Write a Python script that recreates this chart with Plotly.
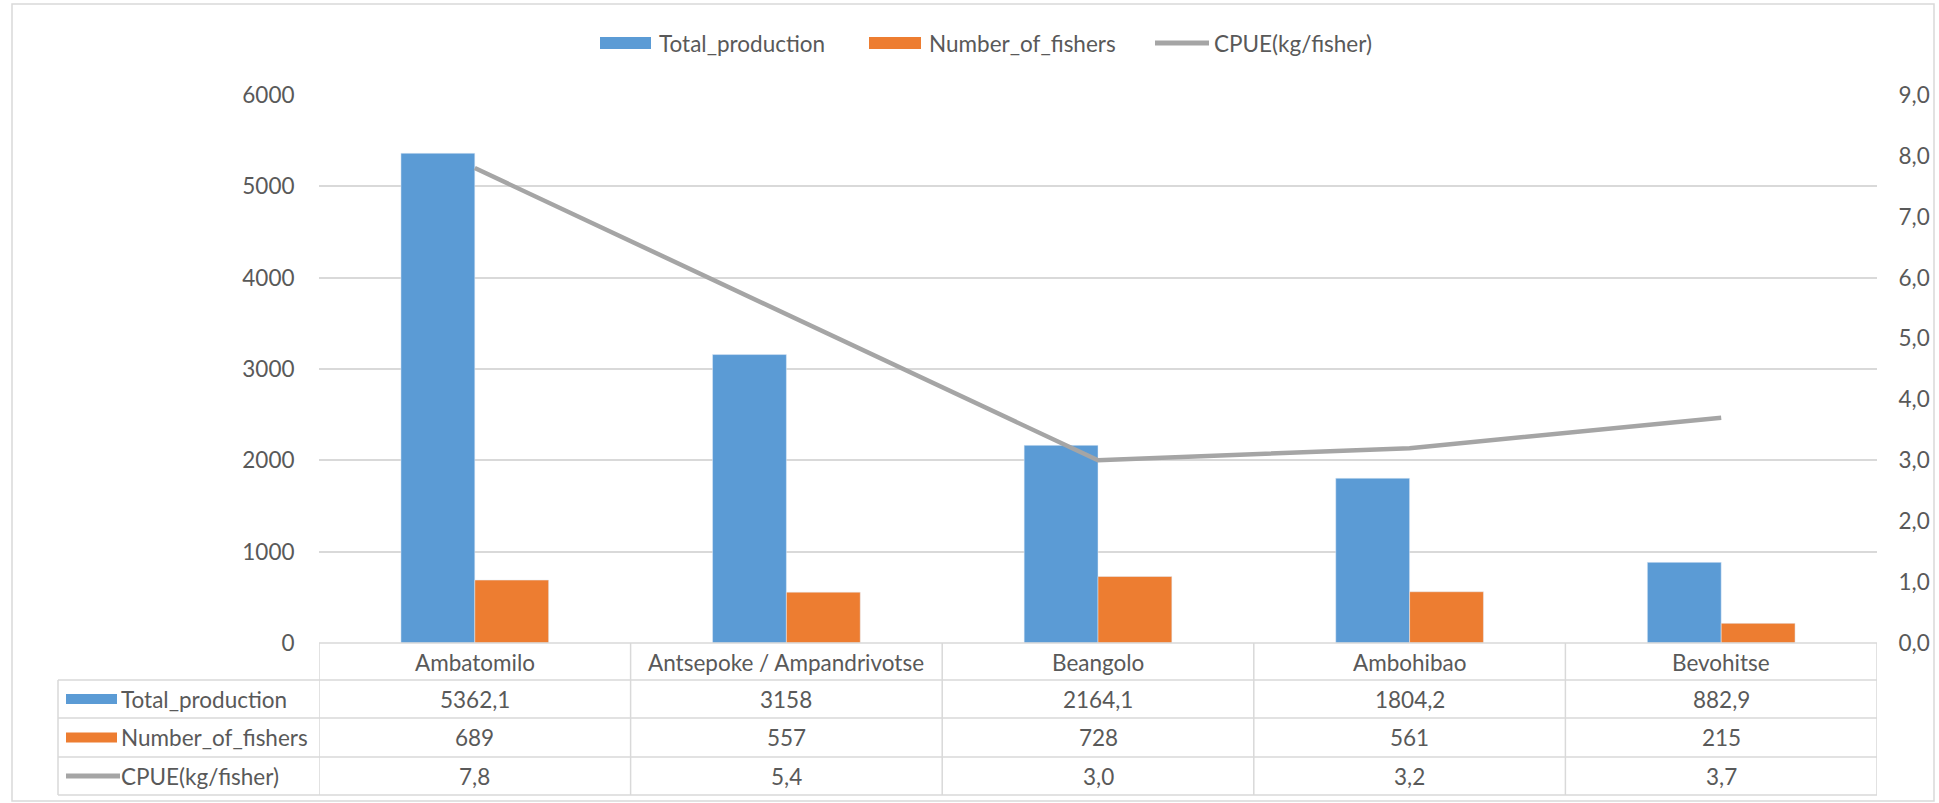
from plotly import graph_objects as go

# データ
sites = ['Ambatomilo', 'Antsepoke / Ampandrivotse', 'Beangolo', 'Ambohibao', 'Bevohitse']
total_production = [5362.1, 3158, 2164.1, 1804.2, 882.9]
number_of_fishers = [689, 557, 728, 561, 215]
cpue = [7.8, 5.4, 3.0, 3.2, 3.7]

series_names = ['Total_production', 'Number_of_fishers', 'CPUE(kg/fisher)']
left_ticks = [0, 1000, 2000, 3000, 4000, 5000, 6000]
right_ticks = [0, 1, 2, 3, 4, 5, 6, 7, 8, 9]

BLUE, ORANGE, GREY = '#5B9BD5', '#ED7D31', '#A5A5A5'
TXT, GRID = '#595959', '#D9D9D9'
FONT = 'Lato, sans-serif'
FS = 22.5

W, H = 1939, 803
L, R, T, B = 319, 62, 95, 160
PW, PH = W - L - R, H - T - B


def px(x):  # ピクセル -> paper座標
    return (x - L) / PW


def py(y):
    return (H - B - y) / PH


def fmt(v):
    return f'{v:g}'.replace('.', ',')


fig = go.Figure()
fig.add_trace(go.Bar(x=sites, y=total_production, name=series_names[0],
                     marker_color=BLUE, showlegend=False))
fig.add_trace(go.Bar(x=sites, y=number_of_fishers, name=series_names[1],
                     marker_color=ORANGE, showlegend=False))
fig.add_trace(go.Scatter(x=sites, y=cpue, name=series_names[2], yaxis='y2',
                         mode='lines', line=dict(color=GREY, width=4.5),
                         showlegend=False))

shapes, annos = [], []
line_style = dict(color=GRID, width=1.5)

# 外枠
shapes.append(dict(type='rect', xref='paper', yref='paper',
                   x0=px(12), x1=px(1934), y0=py(801), y1=py(4),
                   line=dict(color=GRID, width=1.5), layer='below'))

# 凡例（上部）
legend_items = [(600, 651, 657, BLUE, 'bar'), (869, 921, 927, ORANGE, 'bar'),
                (1155, 1209, 1212, GREY, 'line')]
for (k0, k1, tx, col, kind), name in zip(legend_items, series_names):
    if kind == 'bar':
        shapes.append(dict(type='rect', xref='paper', yref='paper',
                           x0=px(k0), x1=px(k1), y0=py(49), y1=py(37),
                           fillcolor=col, line=dict(width=0)))
    else:
        shapes.append(dict(type='line', xref='paper', yref='paper',
                           x0=px(k0), x1=px(k1), y0=py(43), y1=py(43),
                           line=dict(color=col, width=5)))
    annos.append(dict(xref='paper', yref='paper', x=px(tx), y=py(43),
                      text=name, showarrow=False, xanchor='left',
                      yanchor='middle', font=dict(family=FONT, size=FS, color=TXT)))

# データテーブル
row_edges = [643, 680, 718, 757, 795]
table_left = 58
for i, ye in enumerate(row_edges):
    x0 = px(319) if i == 0 else px(table_left)
    shapes.append(dict(type='line', xref='paper', yref='paper',
                       x0=x0, x1=1, y0=py(ye), y1=py(ye), line=line_style))
for k in range(len(sites) + 1):
    shapes.append(dict(type='line', xref='x', yref='paper',
                       x0=k - 0.5, x1=k - 0.5, y0=py(643), y1=py(795),
                       line=line_style))
shapes.append(dict(type='line', xref='paper', yref='paper',
                   x0=px(table_left), x1=px(table_left), y0=py(680), y1=py(795),
                   line=line_style))

# ヘッダー行（カテゴリ名）
for s in sites:
    annos.append(dict(xref='x', yref='paper', x=s, y=py(662), text=s,
                      showarrow=False, yanchor='middle',
                      font=dict(family=FONT, size=FS, color=TXT)))

rows = [
    ([fmt(v) for v in total_production], BLUE, 'bar'),
    ([str(v) for v in number_of_fishers], ORANGE, 'bar'),
    ([f'{v:.1f}'.replace('.', ',') for v in cpue], GREY, 'line'),
]
for r, ((vals, col, kind), name) in enumerate(zip(rows, series_names)):
    yc = (row_edges[r + 1] + row_edges[r + 2]) / 2
    if kind == 'bar':
        shapes.append(dict(type='rect', xref='paper', yref='paper',
                           x0=px(66), x1=px(117), y0=py(yc + 5), y1=py(yc - 5),
                           fillcolor=col, line=dict(width=0)))
    else:
        shapes.append(dict(type='line', xref='paper', yref='paper',
                           x0=px(66), x1=px(120), y0=py(yc), y1=py(yc),
                           line=dict(color=col, width=5)))
    annos.append(dict(xref='paper', yref='paper', x=px(119), y=py(yc), text=name,
                      showarrow=False, xanchor='left', yanchor='middle',
                      font=dict(family=FONT, size=FS, color=TXT)))
    for s, v in zip(sites, vals):
        annos.append(dict(xref='x', yref='paper', x=s, y=py(yc), text=v,
                          showarrow=False, yanchor='middle',
                          font=dict(family=FONT, size=FS, color=TXT)))

fig.update_layout(
    width=W, height=H,
    margin=dict(l=L, r=R, t=T, b=B, autoexpand=False),
    paper_bgcolor='white', plot_bgcolor='white',
    separators=',.',
    barmode='group', bargap=0.526, bargroupgap=0,
    font=dict(family=FONT, size=FS, color=TXT),
    xaxis=dict(range=[-0.5, len(sites) - 0.5], showticklabels=False,
               showgrid=False, zeroline=False, showline=False, fixedrange=True),
    yaxis=dict(range=[0, 6000], tickvals=left_ticks, tickformat='d',
               showgrid=True, gridcolor=GRID, gridwidth=1.5, zeroline=False,
               showline=False, ticks='outside', ticklen=19,
               tickcolor='rgba(0,0,0,0)', tickfont=dict(size=FS, color=TXT)),
    yaxis2=dict(range=[0, 9], tickvals=right_ticks, tickformat='.1f',
                overlaying='y', side='right', showgrid=False, zeroline=False,
                showline=False, ticks='outside', ticklen=16,
                tickcolor='rgba(0,0,0,0)', tickfont=dict(size=FS, color=TXT)),
    shapes=shapes,
    annotations=annos,
    showlegend=False,
)

# bodyの余白を消す
fig.write_html('out.html', config=dict(displayModeBar=False),
               post_script="document.body.style.margin='0';"
                           "document.body.style.overflow='hidden';")
